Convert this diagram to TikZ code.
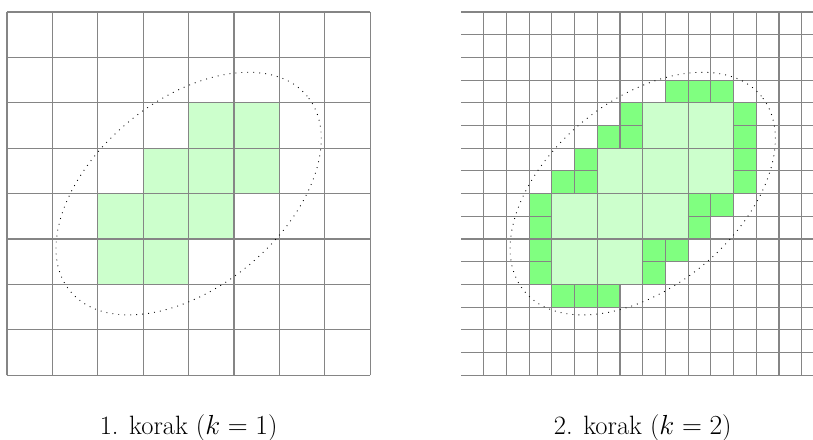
\documentclass[tikz,border=0pt]{standalone}
\usepackage{amsmath}

\begin{document}
\begin{tikzpicture}[
    gridline/.style={draw=black!48, line width=0.7pt},
    oldcell/.style={fill=green!20, draw=black!48, line width=0.7pt},
    newcell/.style={fill=green!50, draw=black!48, line width=0.7pt},
    region/.style={line width=0.55pt, dash pattern=on 0.55pt off 3.2pt},
    caption/.style={font=\fontsize{16.6}{20}\selectfont, inner sep=0pt, anchor=base}
  ]
  \useasboundingbox (-0.154,-1.41) rectangle (17.75,8.264);
  % 1. korak
  \draw[gridline] (0,0) grid (8,8);
  \foreach \x/\y in {4/5,5/5,3/4,4/4,5/4,2/3,3/3,4/3,2/2,3/2}
    \draw[oldcell] (\x,\y) rectangle +(1,1);
  \draw[region, rotate around={39.4:(4,4)}] (4,4) ellipse [x radius=3.38, y radius=2.06];
  \node[caption] (cap1) at (4,-1.31) {1. korak ($k=1$)};
  % 2. korak
  \draw[gridline] (10,0) grid[step=0.5] (18,8);
  \foreach \x/\y in {4/5,5/5,3/4,4/4,5/4,2/3,3/3,4/3,2/2,3/2}
    \draw[oldcell] ({10+\x},\y) rectangle +(1,1);
  \foreach \c/\r in {9/3,10/3,11/3,7/4,12/4,6/5,7/5,12/5,5/6,12/6,4/7,5/7,12/7,
                     3/8,10/8,11/8,3/9,10/9,3/10,8/10,9/10,3/11,8/11,4/12,5/12,6/12}
    \draw[newcell] ({10+0.5*\c},{7.5-0.5*\r}) rectangle +(0.5,0.5);
  \draw[region, rotate around={39.4:(14,4)}] (14,4) ellipse [x radius=3.38, y radius=2.06];
  \node[caption] (cap2) at (14,-1.31) {2. korak ($k=2$)};
\end{tikzpicture}
\end{document}
